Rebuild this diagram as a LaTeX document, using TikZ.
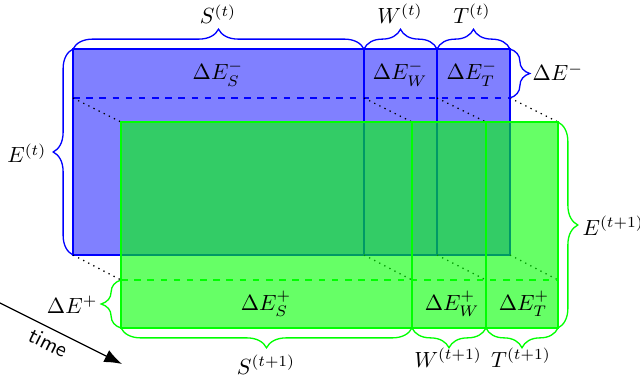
\documentclass[tikz,border=0pt]{standalone}
\usepackage{amsmath,amssymb}
\usepackage{bm}
\usetikzlibrary{decorations.pathreplacing,arrows.meta}

\tikzset{
  bracedeco/.style={decorate, decoration={brace, amplitude=9pt}},
  lbl/.style={inner sep=0pt},
}

\begin{document}
\begin{tikzpicture}[x=0.016cm, y=-0.016cm, line width=0.6pt]
    \useasboundingbox (0,0) rectangle (640,377);

    \filldraw[draw=blue, fill=blue!50] (73,49) rectangle (510,255);
    \draw[blue] (364,49) -- (364,255);
    \draw[blue] (437,49) -- (437,255);
    \draw[blue, dashed] (73,98) -- (510,98);

    \draw[dotted] (73,98) -- (121,122);
    \draw[dotted] (364,98) -- (412,122);
    \draw[dotted] (437,98) -- (486,122);
    \draw[dotted] (510,98) -- (558,122);
    \draw[dotted] (73,255) -- (121,280);
    \draw[dotted] (364,255) -- (412,280);
    \draw[dotted] (437,255) -- (486,280);
    \draw[dotted] (510,255) -- (558,280);

    \filldraw[draw=green, fill=green, fill opacity=0.6] (121,122) rectangle (558,328);
    \draw[green] (412,122) -- (412,328);
    \draw[green] (486,122) -- (486,328);
    \draw[green, dashed] (121,280) -- (558,280);

    \draw[blue, bracedeco] (73,49) -- (364,49);
    \draw[blue, bracedeco] (364,49) -- (437,49);
    \draw[blue, bracedeco] (437,49) -- (510,49);
    \draw[blue, bracedeco] (73,255) -- (73,49);
    \draw[blue, bracedeco] (510,49) -- (510,98);

    \draw[green, bracedeco] (412,328) -- (121,328);
    \draw[green, bracedeco] (486,328) -- (412,328);
    \draw[green, bracedeco] (558,328) -- (486,328);
    \draw[green, bracedeco] (121,328) -- (121,280);
    \draw[green, bracedeco] (558,122) -- (558,328);

    \node[lbl, anchor=base] (St) at (218,24) {$S^{(t)}$};
    \node[lbl, anchor=base] (Wt) at (400,23) {$W^{(t)}$};
    \node[lbl, anchor=base] (Tt) at (472,23) {$T^{(t)}$};
    \node[lbl, anchor=base east] (Et) at (47,163) {$E^{(t)}$};
    \node[lbl, anchor=base west] (dEm) at (532,81) {$\Delta E^{-}$};

    \node[lbl, anchor=base] (dEmS) at (218,80) {$\Delta E^{-}_{S}$};
    \node[lbl, anchor=base] (dEmW) at (400,80) {$\Delta E^{-}_{W}$};
    \node[lbl, anchor=base] (dEmT) at (472,80) {$\Delta E^{-}_{T}$};

    \node[lbl, anchor=base] (dEpS) at (266,310) {$\Delta E^{+}_{S}$};
    \node[lbl, anchor=base] (dEpW) at (452,310) {$\Delta E^{+}_{W}$};
    \node[lbl, anchor=base] (dEpT) at (524,310) {$\Delta E^{+}_{T}$};

    \node[lbl, anchor=base east] (dEp) at (98,313) {$\Delta E^{+}$};
    \node[lbl, anchor=base west] (Et1) at (582,235) {$E^{(t+1)}$};
    \node[lbl, anchor=base] (St1) at (266,374) {$S^{(t+1)}$};
    \node[lbl, anchor=base] (Wt1) at (448,367) {$W^{(t+1)}$};
    \node[lbl, anchor=base] (Tt1) at (521,367) {$T^{(t+1)}$};

    \coordinate (tstart) at (0,303);
    \coordinate (tend) at (122,364);
    \draw[-{Latex[length=8pt]}] (tstart) -- (tend);
    \node[rotate=-26.6, font=\sffamily] (time) at (48,343) {time};
\end{tikzpicture}
\end{document}
